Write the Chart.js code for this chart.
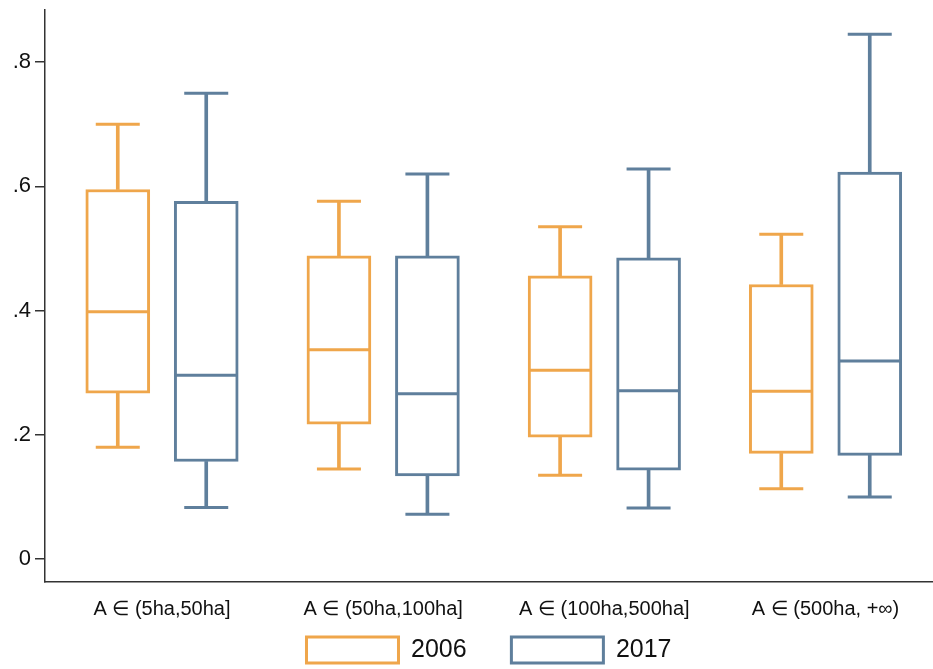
<!DOCTYPE html>
<html>
<head>
<meta charset="utf-8">
<script src="https://cdn.jsdelivr.net/npm/chart.js@4"></script>
<style>
  html, body { margin: 0; padding: 0; background: #fff; }
  #wrap { width: 933px; height: 669px; }
</style>
</head>
<body>
<div id="wrap"><canvas id="myChart"></canvas></div>
<script>
const categories = ["A \u2208 (5ha,50ha]", "A \u2208 (50ha,100ha]", "A \u2208 (100ha,500ha]", "A \u2208 (500ha, +\u221e)"];
const yTicks = [0, 0.2, 0.4, 0.6, 0.8];

// 2006
const low2006 = [0.180, 0.145, 0.135, 0.113];
const q1_2006 = [0.267, 0.217, 0.196, 0.170];
const med2006 = [0.398, 0.337, 0.304, 0.270];
const q3_2006 = [0.595, 0.488, 0.456, 0.442];
const high2006 = [0.700, 0.576, 0.535, 0.523];

// 2017
const low2017 = [0.083, 0.072, 0.082, 0.100];
const q1_2017 = [0.157, 0.134, 0.143, 0.167];
const med2017 = [0.296, 0.266, 0.271, 0.319];
const q3_2017 = [0.576, 0.488, 0.485, 0.623];
const high2017 = [0.750, 0.620, 0.628, 0.845];

const ORANGE = "#EFA64B";
const BLUE = "#5F7F9C";
const AXIS = "#333333";

function makeSeries(label, shift, color, low, q1, med, q3, high) {
  const xs = categories.map((c, i) => i + shift);
  return {
    box: {
      type: "bar",
      label: label,
      data: xs.map((x, i) => ({ x: x, y: [q1[i], q3[i]] })),
      backgroundColor: "#ffffff",
      borderColor: color,
      borderWidth: 3,
      borderSkipped: false,
      barThickness: 64,
      grouped: false,
      order: 2,
    },
    whisker: {
      type: "bar",
      label: label + " whisker",
      data: xs.flatMap((x, i) => [
        { x: x, y: [q3[i], high[i]] },
        { x: x, y: [low[i], q1[i]] },
      ]),
      backgroundColor: color,
      borderWidth: 0,
      barThickness: 3,
      grouped: false,
      order: 3,
    },
    caps: {
      type: "scatter",
      label: label + " caps",
      data: xs.flatMap((x, i) => [
        { x: x, y: high[i] },
        { x: x, y: low[i] },
      ]),
      pointStyle: "line",
      pointRadius: 22,
      borderColor: color,
      borderWidth: 3,
      order: 3,
    },
    median: {
      type: "scatter",
      label: label + " median",
      data: xs.map((x, i) => ({ x: x, y: med[i] })),
      pointStyle: "line",
      pointRadius: 31,
      borderColor: color,
      borderWidth: 3,
      order: 1,
    },
  };
}

function renderChart() {
  const s06 = makeSeries("2006", -0.2, ORANGE, low2006, q1_2006, med2006, q3_2006, high2006);
  const s17 = makeSeries("2017", 0.2, BLUE, low2017, q1_2017, med2017, q3_2017, high2017);

  Chart.defaults.font.family = "'Liberation Sans', Arial, sans-serif";
  Chart.defaults.color = "#111";
  const baseLabels = Chart.defaults.plugins.legend.labels.generateLabels;

  new Chart(document.getElementById("myChart"), {
    type: "bar",
    data: {
      datasets: [
        s06.box, s17.box,
        s06.whisker, s17.whisker,
        s06.caps, s17.caps,
        s06.median, s17.median,
      ],
    },
    options: {
      responsive: true,
      maintainAspectRatio: false,
      animation: false,
      events: [],
      layout: { autoPadding: false, padding: { top: 10, left: 0, right: 0, bottom: 0 } },
      plugins: {
        tooltip: { enabled: false },
        legend: {
          position: "bottom",
          fullSize: false,
          maxHeight: 49,
          labels: {
            boxWidth: 92,
            boxHeight: 26,
            padding: 17,
            color: "#111",
            font: { size: 25 },
            // only the two boxes; pad the first label so the second key sits further right
            generateLabels: (chart) =>
              baseLabels(chart)
                .filter((item) => item.datasetIndex < 2)
                .map((item) => {
                  if (item.datasetIndex === 0) item.text = item.text + "    ";
                  return item;
                }),
          },
        },
      },
      scales: {
        x: {
          type: "linear",
          offset: false,
          min: -0.529,
          max: 3.486,
          afterBuildTicks: (scale) => {
            scale.ticks = categories.map((c, i) => ({ value: i }));
          },
          afterFit: (scale) => {
            scale.height = 38;
            scale.paddingLeft = 0;
            scale.paddingRight = 0;
          },
          grid: { display: false, drawTicks: false, tickLength: 0 },
          border: { display: true, color: AXIS, width: 1.5 },
          ticks: {
            autoSkip: false,
            maxRotation: 0,
            padding: 15,
            font: { size: 20 },
            color: "#111",
            callback: (v) => categories[v],
          },
        },
        y: {
          min: -0.037,
          max: 0.884,
          afterBuildTicks: (scale) => {
            scale.ticks = yTicks.map((v) => ({ value: v }));
          },
          afterFit: (scale) => {
            scale.width = 45;
            scale.paddingTop = 0;
            scale.paddingBottom = 0;
          },
          grid: {
            drawOnChartArea: false,
            drawTicks: true,
            tickLength: 10,
            color: AXIS,
            lineWidth: 1.5,
          },
          border: { display: true, color: AXIS, width: 1.5 },
          ticks: {
            padding: 4,
            font: { size: 22 },
            color: "#111",
            callback: (v) => (v === 0 ? "0" : v.toFixed(1).replace(/^0/, "")),
          },
        },
      },
    },
  });
}

window.onload = renderChart;
</script>
</body>
</html>
